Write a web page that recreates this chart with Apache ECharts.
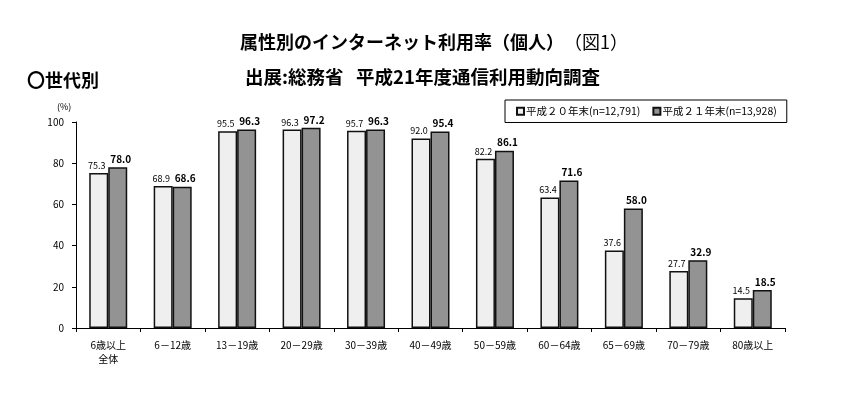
<!DOCTYPE html>
<html><head><meta charset="utf-8">
<script src="https://cdn.jsdelivr.net/npm/echarts@6/dist/echarts.min.js"></script>
<style>html,body{margin:0;padding:0;background:#fff}#c{width:865px;height:408px}</style>
</head><body><div id="c"></div>
<script>
const categories = ['6歳以上\n全体','6－12歳','13－19歳','20－29歳','30－39歳','40－49歳','50－59歳','60－64歳','65－69歳','70－79歳','80歳以上'];
const seriesNames = ['平成２０年末(n=12,791)','平成２１年末(n=13,928)'];
const h20 = [75.3,68.9,95.5,96.3,95.7,92.0,82.2,63.4,37.6,27.7,14.5];
const h21 = [78.0,68.6,96.3,97.2,96.3,95.4,86.1,71.6,58.0,32.9,18.5];
const yTicks = {min:0,max:100,interval:20};

const FONT = '"Noto Sans CJK JP", sans-serif';
const chart = echarts.init(document.getElementById('c'));
chart.setOption({
  animation:false,
  textStyle:{fontFamily:FONT},
  title:[
    {text:'{b|属性別のインターネット利用率（個人）}{n|（図1）}',left:235,top:28,
     textStyle:{rich:{b:{fontSize:18,fontWeight:'bold',color:'#000',fontFamily:FONT},n:{fontSize:18,fontWeight:'normal',color:'#000',fontFamily:FONT}}}},
    {text:'出展:総務省   平成21年度通信利用動向調査',left:240,top:63,textStyle:{fontSize:18.5,fontWeight:'bold',color:'#000',fontFamily:FONT}},
    {text:'〇世代別',left:22,top:66,textStyle:{fontSize:18,fontWeight:'bold',color:'#000',fontFamily:FONT}},
    {text:'(%)',left:52,top:97,textStyle:{fontSize:9,fontWeight:'normal',color:'#000',fontFamily:FONT}}
  ],
  legend:{
    left:505,top:100,
    padding:[6,10,6,11],
    borderColor:'#000',borderWidth:1,
    itemWidth:7,itemHeight:7,itemGap:12,
    icon:'rect',
    textStyle:{fontSize:10.5,color:'#000',fontFamily:FONT,padding:[0,0,0,-3]},
    data:seriesNames
  },
  grid:{left:76,right:80,top:122,bottom:80},
  xAxis:{
    type:'category',data:categories,
    axisLine:{lineStyle:{color:'#000',width:1}},
    axisTick:{show:true,length:4,inside:false,lineStyle:{color:'#000'}},
    axisLabel:{fontSize:10,color:'#000',margin:10,lineHeight:14,interval:0}
  },
  yAxis:{
    type:'value',min:yTicks.min,max:yTicks.max,interval:yTicks.interval,
    axisLine:{show:true,lineStyle:{color:'#000',width:1}},
    axisTick:{show:true,length:4,lineStyle:{color:'#000'}},
    splitLine:{show:false},
    axisLabel:{fontSize:10,color:'#000',margin:12}
  },
  series:[
    {name:seriesNames[0],type:'bar',data:h20,barWidth:19,barGap:'0%',
     itemStyle:{color:'#efefef',borderColor:'#111',borderWidth:1.5},
     label:{show:true,position:'top',fontSize:9,color:'#000',distance:3,offset:[-2,0],formatter:p=>p.value.toFixed(1)}},
    {name:seriesNames[1],type:'bar',data:h21,barWidth:19,
     itemStyle:{color:'#939393',borderColor:'#111',borderWidth:1.5},
     label:{show:true,position:'top',fontSize:10,fontWeight:'bold',color:'#000',distance:3,offset:[3,0],formatter:p=>p.value.toFixed(1)}}
  ]
});
</script></body></html>
